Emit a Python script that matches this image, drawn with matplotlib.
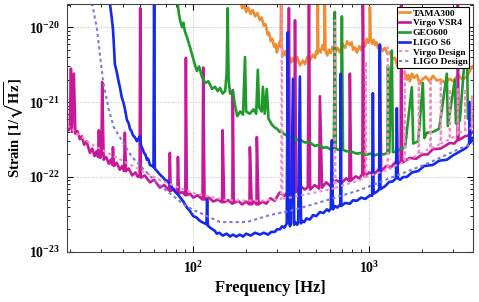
import matplotlib
matplotlib.use("Agg")
import matplotlib.pyplot as plt

plt.rcParams['font.family'] = ['Liberation Serif', 'DejaVu Serif']
plt.rcParams['font.weight'] = 'bold'
plt.rcParams['mathtext.fontset'] = 'stix'
plt.rcParams['mathtext.default'] = 'bf'

# (frequency [Hz], strain [1/sqrt(Hz)])
tama300 = [(184, 2.5e-20), (190, 1.8e-20), (195, 2.0e-20), (200, 1.6e-20), (205, 1.85e-20),
           (212, 1.5e-20), (218, 1.7e-20), (225, 1.4e-20), (232, 1.55e-20), (239, 1.25e-20),
           (245, 1.35e-20), (252, 1.05e-20), (258, 1.1e-20), (265, 8e-21), (270, 8.5e-21),
           (276, 6.5e-21), (282, 7e-21), (288, 5.5e-21), (294, 6e-21), (299, 4.6e-21),
           (305, 5.6e-21), (311, 6.5e-21), (314, 5.5e-21), (316, 2.5e-20), (319, 5.2e-21),
           (326, 4.2e-21), (335, 4.8e-21), (342, 3.8e-21), (350, 4.2e-21), (360, 3.4e-21),
           (369, 3.9e-21), (380, 3.3e-21), (390, 4.0e-21), (405, 3.1e-21), (420, 3.6e-21),
           (432, 3.2e-21), (445, 4.0e-21), (460, 3.6e-21), (479, 4.3e-21), (492, 3.9e-21),
           (500, 4.8e-21), (508, 4.4e-21), (511, 2.5e-20), (514, 5.2e-21), (530, 4.6e-21),
           (545, 5.8e-21), (555, 5.0e-21), (560, 2.5e-20), (565, 4.8e-21), (578, 4.2e-21),
           (590, 5.0e-21), (605, 4.5e-21), (620, 5.5e-21), (640, 4.6e-21), (660, 5.3e-21),
           (682, 4.6e-21), (705, 6.0e-21), (730, 5.3e-21), (750, 6.5e-21), (777, 5.8e-21),
           (795, 6.3e-21), (810, 5.0e-21), (830, 5.4e-21), (851, 4.6e-21), (880, 5.6e-21),
           (900, 5.0e-21), (920, 6.0e-21), (945, 5.5e-21), (970, 7.0e-21), (990, 6.2e-21),
           (1005, 7e-21), (1010, 1.85e-20), (1020, 6.8e-21), (1040, 6.0e-21), (1060, 6.8e-21),
           (1080, 5.8e-21), (1100, 6.3e-21), (1125, 5.2e-21), (1150, 5.8e-21), (1190, 4.8e-21),
           (1230, 5.3e-21), (1270, 4.4e-21), (1311, 4.7e-21), (1350, 3.8e-21), (1400, 3.9e-21),
           (1450, 3.0e-21), (1494, 3.1e-21), (1550, 2.5e-21), (1600, 2.4e-21), (1637, 2.0e-21),
           (1670, 2.3e-21), (1703, 1.9e-21), (1750, 2.4e-21), (1800, 2.1e-21), (1870, 2.3e-21),
           (1941, 1.75e-21), (2000, 2.0e-21), (2100, 2.2e-21), (2200, 1.9e-21), (2302, 2.25e-21),
           (2420, 1.95e-21), (2550, 2.0e-21), (2700, 1.8e-21), (2874, 2.05e-21), (3000, 1.9e-21),
           (3200, 2.3e-21), (3400, 2.0e-21), (3590, 2.2e-21), (3700, 2.5e-21), (3800, 2.8e-21),
           (3882, 3.0e-21)]

virgo_vsr4 = [(19.2, 4.8e-22), (19.6, 4.2e-22), (19.9, 4.6e-22), (20.2, 2.8e-21), (20.5, 4.0e-22),
              (21.0, 2.4e-21), (21.4, 3.8e-22), (22.0, 4.1e-22), (22.7, 3.2e-22), (23.3, 3.5e-22),
              (24.0, 2.7e-22), (24.8, 3.0e-22), (25.9, 2.1e-22), (26.7, 2.4e-22), (27.5, 1.9e-22),
              (28.2, 2.2e-22), (28.8, 1.85e-22), (29.1, 4.2e-22), (29.6, 1.8e-22), (30.1, 2.0e-22),
              (30.4, 1.85e-21), (31.0, 1.7e-22), (32.0, 1.85e-22), (33.2, 1.5e-22), (34.0, 1.7e-22),
              (34.7, 1.45e-22), (35.0, 2.5e-22), (35.5, 1.4e-22), (36.8, 1.55e-22), (38.3, 1.25e-22),
              (39.5, 1.4e-22), (40.5, 1.2e-22), (40.9, 3.9e-22), (41.5, 1.2e-22), (43.0, 1.3e-22),
              (45.0, 1.05e-22), (47.0, 1.15e-22), (48.5, 1.0e-22), (49.6, 1.05e-22), (50.0, 1.8e-20),
              (50.4, 9.8e-23), (53.0, 1.05e-22), (56.8, 8.5e-23), (60.0, 9.2e-23), (64.7, 7.2e-23),
              (68.5, 7.8e-23), (73.0, 6.6e-23), (73.7, 2.1e-22), (74.5, 6.5e-23), (78.0, 6.9e-23),
              (81.3, 6.0e-23), (81.9, 1.85e-22), (83.0, 6.0e-23), (87.0, 6.3e-23), (90.2, 5.7e-23),
              (90.9, 3.9e-21), (92.0, 5.7e-23), (96.0, 6.0e-23), (100, 5.3e-23), (106, 5.7e-23),
              (113, 5.0e-23), (114, 2.9e-21), (116, 5.0e-23), (123, 5.3e-23), (130, 4.7e-23),
              (138, 5.0e-23), (146, 4.6e-23), (147, 4.2e-22), (150, 4.6e-23), (158, 4.9e-23),
              (167, 4.4e-23), (168, 1.45e-21), (170, 4.5e-23), (180, 4.8e-23), (190, 4.3e-23),
              (200, 4.7e-23), (209, 4.3e-23), (210, 2.5e-22), (215, 4.3e-23), (222, 4.7e-23),
              (229, 4.3e-23), (230, 3.4e-22), (235, 4.3e-23), (248, 4.7e-23), (260, 4.4e-23),
              (275, 5.2e-23), (290, 4.8e-23), (310, 6.2e-23), (330, 5.6e-23), (346, 6.4e-23),
              (350, 1.8e-20), (354, 6.0e-23), (365, 6.6e-23), (375, 6.0e-23), (379, 1.24e-20),
              (385, 6.3e-23), (410, 7.5e-23), (430, 6.8e-23), (448, 7.3e-23), (455, 2.5e-20),
              (462, 6.8e-23), (490, 7.8e-23), (520, 7.0e-23), (525, 1.2e-21), (540, 7.2e-23),
              (570, 8.5e-23), (600, 7.6e-23), (650, 9.0e-23), (700, 8.4e-23), (740, 9.6e-23),
              (772, 8.8e-23), (777, 2.4e-21), (790, 9.0e-23), (840, 1.02e-22), (880, 9.6e-23),
              (915, 1.1e-22), (921, 2.5e-20), (940, 1.02e-22), (1000, 1.15e-22), (1070, 1.1e-22),
              (1140, 1.28e-22), (1150, 3.6e-21), (1170, 1.2e-22), (1250, 1.4e-22), (1330, 1.35e-22),
              (1400, 1.55e-22), (1460, 1.5e-22), (1510, 1.6e-22), (1520, 2.5e-20), (1540, 1.55e-22),
              (1700, 1.8e-22), (1850, 1.75e-22), (2000, 2.0e-22), (2150, 2.0e-22), (2300, 2.35e-22),
              (2550, 2.4e-22), (2874, 2.85e-22), (3050, 2.8e-22), (3180, 3.15e-22), (3191, 2.5e-20),
              (3220, 3.1e-22), (3500, 3.5e-22), (3700, 3.6e-22), (3882, 4.0e-22)]

geo600 = [(80.8, 2.5e-20), (83.0, 1.5e-20), (84.5, 1.2e-20), (86.5, 1.0e-20), (88.0, 1.15e-20),
          (89.7, 8.8e-21), (92.0, 7.5e-21), (95.8, 5.5e-21), (100, 3.8e-21), (103, 3.0e-21),
          (105, 2.6e-21), (108, 3.0e-21), (112, 2.2e-21), (117, 1.8e-21), (122, 1.9e-21),
          (128, 1.5e-21), (133, 1.6e-21), (138, 1.4e-21), (142, 1.55e-21), (147, 1.3e-21),
          (152, 1.4e-21), (155, 2.5e-21), (157, 1.8e-20), (159, 2.0e-21), (162, 1.3e-21),
          (168, 1.4e-21), (173, 9.0e-22), (178, 6.5e-22), (185, 7.5e-22), (192, 6.8e-22),
          (197, 4.0e-21), (200, 7.5e-22), (210, 7.0e-22), (220, 8.0e-22), (228, 7.0e-22),
          (233, 2.7e-21), (237, 8.5e-22), (245, 7.5e-22), (249, 1.6e-21), (255, 7.0e-22),
          (262, 1.5e-21), (268, 6.0e-22), (274, 5.5e-22), (280, 5.0e-22), (290, 4.6e-22),
          (300, 4.4e-22), (310, 4.0e-22), (318, 4.1e-22), (330, 3.7e-22), (345, 3.6e-22),
          (357, 3.4e-22), (369, 3.5e-22), (385, 3.1e-22), (400, 3.2e-22), (430, 2.9e-22),
          (460, 2.9e-22), (490, 2.6e-22), (520, 2.7e-22), (550, 2.45e-22), (575, 2.5e-22),
          (600, 2.35e-22), (630, 2.45e-22), (638, 1.6e-20), (646, 2.4e-22), (670, 2.3e-22),
          (690, 2.4e-22), (700, 1.4e-20), (710, 2.3e-22), (750, 2.2e-22), (808, 2.15e-22),
          (850, 2.05e-22), (900, 2.1e-22), (950, 1.95e-22), (1010, 2.05e-22), (1080, 1.95e-22),
          (1150, 2.05e-22), (1210, 2.0e-22), (1270, 2.1e-22), (1280, 3.0e-21), (1300, 2.1e-22),
          (1346, 4.9e-21), (1364, 2.15e-22), (1430, 2.2e-22), (1500, 2.35e-22), (1600, 2.5e-22),
          (1748, 1.58e-21), (1780, 2.8e-22), (1900, 3.0e-22), (2019, 1.8e-21), (2060, 3.3e-22),
          (2128, 3.9e-22), (2300, 4.0e-22), (2500, 4.4e-22), (2763, 2.4e-21), (2800, 4.8e-22),
          (3069, 2.0e-21), (3110, 5.2e-22), (3277, 5.7e-22), (3590, 9.0e-21), (3640, 6.0e-22),
          (3882, 6.5e-22)]

ligo_s6 = [(33.3, 2.5e-20), (34.5, 1.3e-20), (35.0, 9.5e-21), (35.4, 6.0e-21), (35.9, 3.2e-21),
           (36.7, 2.6e-21), (37.5, 2.0e-21), (38.5, 1.5e-21), (39.3, 1.15e-21), (40.1, 1.0e-21),
           (40.9, 8.2e-22), (42.0, 5.8e-22), (43.0, 5.2e-22), (43.7, 4.4e-22), (44.6, 4.1e-22),
           (45.5, 3.6e-22), (46.6, 3.4e-22), (47.9, 3.0e-22), (49.0, 3.3e-22), (49.8, 3.5e-22),
           (50.6, 2.6e-22), (51.5, 2.4e-22), (52.5, 2.1e-22), (53.5, 2.0e-22), (54.6, 1.7e-22),
           (55.5, 1.75e-22), (56.8, 1.45e-22), (58.5, 1.4e-22), (59.5, 1.35e-22), (60.0, 3.0e-20),
           (60.5, 1.3e-22), (62.2, 1.2e-22), (64.7, 1.08e-22), (67.0, 1.0e-22), (69.1, 9.2e-23),
           (71.5, 8.8e-23), (73.7, 8.0e-23), (76.0, 7.2e-23), (78.7, 6.4e-23), (81.0, 6.0e-23),
           (84.0, 5.4e-23), (88.0, 4.7e-23), (92.1, 3.9e-23), (96.0, 3.5e-23), (100, 3.0e-23),
           (104, 2.9e-23), (109, 2.6e-23), (114, 2.45e-23), (119, 2.35e-23), (120, 5.0e-23),
           (121, 2.25e-23), (125, 2.1e-23), (129, 2.0e-23), (133, 1.9e-23), (136, 1.75e-23),
           (141, 1.8e-23), (147, 1.65e-23), (155, 1.75e-23), (162, 1.6e-23), (168, 1.7e-23),
           (176, 1.6e-23), (184, 1.7e-23), (192, 1.6e-23), (200, 1.75e-23), (212, 1.65e-23),
           (225, 1.8e-23), (239, 1.7e-23), (252, 1.8e-23), (266, 1.7e-23), (278, 1.85e-23),
           (291, 1.85e-23), (300, 2.0e-23), (311, 2.0e-23), (320, 2.2e-23), (330, 2.1e-23),
           (340, 2.4e-23), (345, 8.6e-21), (350, 2.5e-23), (355, 2.2e-23), (360, 2.4e-23),
           (369, 2.05e-21), (375, 2.3e-23), (380, 2.5e-23), (390, 2.3e-23), (395, 2.45e-23),
           (404, 2.2e-21), (410, 2.4e-23), (415, 2.6e-23), (428, 2.5e-23), (440, 2.8e-23),
           (460, 2.7e-23), (480, 3.1e-23), (500, 3.0e-23), (525, 3.4e-23), (550, 3.3e-23),
           (575, 3.7e-23), (590, 3.5e-23), (605, 3.8e-23), (614, 3.1e-22), (623, 3.7e-23),
           (640, 4.1e-23), (660, 3.9e-23), (685, 4.3e-23), (690, 2.4e-21), (695, 4.1e-23),
           (730, 4.5e-23), (777, 4.4e-23), (810, 4.9e-23), (850, 4.8e-23), (900, 5.3e-23),
           (950, 5.1e-23), (1010, 5.7e-23), (1040, 5.6e-23), (1050, 1.32e-21), (1060, 6.0e-23),
           (1100, 6.3e-23), (1140, 6.8e-23), (1150, 5.9e-21), (1160, 6.9e-23), (1230, 7.5e-23),
           (1300, 8.6e-23), (1360, 8.7e-23), (1420, 9.6e-23), (1437, 8.3e-22), (1455, 9.6e-23),
           (1500, 9.2e-23), (1560, 1.0e-22), (1637, 1.0e-22), (1750, 1.15e-22), (1900, 1.2e-22),
           (2050, 1.4e-22), (2300, 1.45e-22), (2500, 1.65e-22), (2763, 1.7e-22), (3000, 1.95e-22),
           (3400, 2.3e-22), (3600, 2.5e-22), (3700, 2.8e-22), (3733, 1.0e-21), (3760, 2.9e-22),
           (3882, 3.3e-22)]

virgo_design = [(19.2, 4.9e-22), (19.9, 4.6e-22), (25.9, 2.8e-22), (42.0, 1.54e-22),
                (64.7, 9.1e-23), (100, 6.1e-23), (155, 4.9e-23), (239, 4.8e-23), (316, 5.1e-23),
                (319, 3.0e-20), (322, 5.1e-23), (369, 5.4e-23), (575, 6.7e-23), (632, 7.1e-23),
                (638, 1.24e-20), (644, 7.2e-23), (886, 9.1e-23), (950, 1.0e-22), (957, 3.5e-21),
                (964, 1.0e-22), (1270, 1.25e-22), (1276, 5.4e-21), (1282, 1.25e-22),
                (1364, 1.37e-22), (1590, 1.6e-22), (1595, 6.0e-21), (1600, 1.6e-22),
                (1905, 2.0e-22), (1914, 1.8e-21), (1923, 2.0e-22), (2128, 2.3e-22),
                (2225, 2.4e-22), (2233, 2.0e-21), (2241, 2.4e-22), (2545, 2.8e-22),
                (2552, 2.0e-21), (2559, 2.8e-22), (2865, 3.2e-22), (2871, 1.5e-21),
                (2877, 3.2e-22), (3185, 3.7e-22), (3190, 1.5e-21), (3195, 3.7e-22),
                (3277, 3.9e-22), (3503, 4.2e-22), (3509, 1.5e-21), (3515, 4.2e-22),
                (3820, 4.5e-22), (3828, 1.2e-21), (3836, 4.5e-22), (3882, 4.6e-22)]

ligo_design = [(26.6, 2.1e-20), (28.3, 1.0e-20), (30.7, 1.96e-21), (33.2, 7.8e-22), (35.4, 4.6e-22),
               (44.9, 1.85e-22), (62.2, 8.3e-23), (92.0, 4.0e-23), (142, 2.5e-23), (202, 2.5e-23),
               (273, 3.1e-23), (369, 3.6e-23), (575, 4.9e-23), (886, 6.7e-23), (1364, 1.0e-22),
               (2128, 1.5e-22), (3277, 2.4e-22), (3882, 2.8e-22)]

series = [
    ('TAMA300', tama300, '#f08c32', '-'),
    ('Virgo VSR4', virgo_vsr4, '#c8189a', '-'),
    ('GEO600', geo600, '#1f9a2a', '-'),
    ('LIGO S6', ligo_s6, '#1428f0', '-'),
    ('Virgo Design', virgo_design, '#f08cc0', (0, (1.5, 1.5))),
    ('LIGO Design', ligo_design, '#7878e6', (0, (1.5, 1.5))),
]

fig = plt.figure(figsize=(4.79, 3.02), dpi=100)
ax = fig.add_axes([0.140, 0.166, 0.847, 0.821])

for name, pts, color, ls in series:
    f, s = zip(*pts)
    lw = 1.9 if ls == '-' else 1.5
    ax.plot(f, s, color=color, lw=lw, ls=ls, label=name)

ax.set_xscale('log')
ax.set_yscale('log')
ax.set_xlim(19.2, 3880)
ax.set_ylim(1e-23, 2.05e-20)
ax.set_xticks([1e2, 1e3])
ax.set_yticks([1e-23, 1e-22, 1e-21, 1e-20])
ax.grid(True, which='major', ls=':', color='#bbbbbb', lw=0.7)
ax.tick_params(which='both', direction='in', top=True, right=True, labelsize=10)
ax.tick_params(which='major', length=4)
ax.tick_params(which='minor', length=2.5)
ax.tick_params(axis='x', which='major', pad=6)
ax.tick_params(axis='y', which='major', pad=5)
for sp in ax.spines.values():
    sp.set_color('#444444')

ax.set_xlabel('Frequency [Hz]', fontsize=12, fontweight='bold', labelpad=3)
ax.set_ylabel(r'Strain [1/$\sqrt{\mathbf{Hz}}$]', fontsize=10.5, fontweight='bold', labelpad=2)

leg = ax.legend(loc='upper right', fontsize=6.8, frameon=True, fancybox=False, framealpha=1,
                edgecolor='black', labelspacing=0.12, handlelength=1.2, handletextpad=0.3,
                borderpad=0.2, borderaxespad=0.35)
leg.get_frame().set_linewidth(0.8)

fig.savefig('out.png', dpi=100)
